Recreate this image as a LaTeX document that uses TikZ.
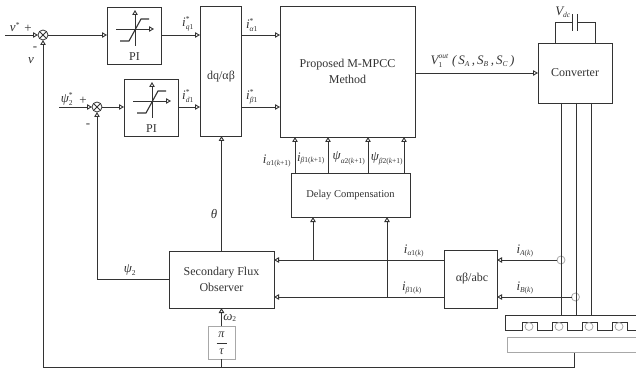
\documentclass[tikz,border=0pt]{standalone}
\usepackage{fontspec}
\setmainfont{Liberation Serif}
\usetikzlibrary{arrows.meta}
\definecolor{ink}{HTML}{333333}
\definecolor{soft}{HTML}{A8A8A8}
\newcommand{\bi}[1]{\hbox{\fontsize{13}{13}\selectfont\itshape #1}}
\newcommand{\si}[1]{\hbox{\fontsize{7.5}{8}\selectfont\itshape #1}}
\newcommand{\sr}[1]{\hbox{\fontsize{7.5}{8}\selectfont #1}}
\tikzset{
  x=1pt,y=-1pt,
  blk/.style={draw=ink,line width=.95pt,fill=white,inner sep=0pt,outer sep=0pt,align=center,text=ink,font=\fontsize{12}{15.5}\selectfont},
  softblk/.style={blk,draw=soft},
  sumj/.style={circle,draw=ink,line width=.8pt,fill=white,minimum size=10pt,inner sep=0pt,outer sep=0pt},
  sensor/.style={circle,draw=soft,line width=.8pt,minimum size=8pt,inner sep=0pt,outer sep=0pt},
  wire/.style={draw=ink,line width=.9pt},
  softwire/.style={draw=soft,line width=1pt},
  arr/.style={wire,-{Triangle[open,fill=white,length=5pt,width=5.5pt,line width=.9pt]}},
  lab/.style={inner sep=0pt,text=ink,font=\fontsize{13}{13}\selectfont},
  txt/.style={inner sep=0pt,text=ink,font=\fontsize{12}{15}\selectfont},
}
\begin{document}
\begin{tikzpicture}
\useasboundingbox (0,0) rectangle (636,371);
% blocks
\node[blk,minimum width=54pt,minimum height=57pt] (pia) at (134,35.5) {};
\node[blk,minimum width=54pt,minimum height=57pt] (pib) at (151,107.5) {};
\node[blk,minimum width=41pt,minimum height=130pt] (dq) at (220.5,71) {};
\node[txt] (dqt) at (221,77) {dq/αβ};
\node[blk,minimum width=135pt,minimum height=131pt] (mpcc) at (347.5,71.5) {Proposed M-MPCC\\Method};
\node[blk,minimum width=74pt,minimum height=60pt] (conv) at (575,73) {Converter};
\node[blk,minimum width=119pt,minimum height=44pt,font=\fontsize{10.5}{13}\selectfont] (delay) at (350.5,195) {Delay Compensation};
\node[blk,minimum width=105pt,minimum height=57pt] (obs) at (221.5,279.5) {Secondary Flux\\Observer};
\node[softblk,minimum width=27pt,minimum height=33pt] (pt) at (221.5,342.5) {};
\node[blk,minimum width=53pt,minimum height=58pt] (conv2) at (470.5,279) {};
\node[txt] (abct) at (472,279) {αβ/abc};
\node[sumj] (sa) at (43,35) {};
\node[sumj] (sb) at (97,107) {};
\draw[wire,line width=.8pt] (sa.north west)--(sa.south east) (sa.north east)--(sa.south west);
\draw[wire,line width=.8pt] (sb.north west)--(sb.south east) (sb.north east)--(sb.south west);
% PI glyphs
\node[txt] (pial) at (134.5,57) {PI};
\node[txt] (pibl) at (151.5,129) {PI};
\foreach \dx/\dy in {0/0,17/72}{
  \begin{scope}[shift={(\dx,\dy)}]
    \coordinate (gl) at (116,29); \coordinate (gr) at (154,29);
    \coordinate (gb) at (135,46); \coordinate (gt) at (135,10);
    \draw[arr] (gl)--(gr);
    \draw[arr] (gb)--(gt);
    \coordinate (c1) at (120,41); \coordinate (c2) at (129,41);
    \coordinate (c3) at (141,19); \coordinate (c4) at (149,19);
    \draw[wire,line width=1.1pt] (c1)--(c2)--(c3)--(c4);
  \end{scope}
}
% coordinates
\coordinate (vin) at (5,35);
\coordinate (psiin) at (59,107);
\coordinate (ybot) at (43,367);
\coordinate (yb2) at (574,367);
\coordinate (ra) at (295,0); \coordinate (rb) at (328,0);
\coordinate (rc) at (368,0); \coordinate (rd) at (404,0);
\coordinate (da) at (313,0); \coordinate (db) at (387,0);
\coordinate (ya) at (0,260); \coordinate (yb) at (0,297);
\coordinate (yi) at (0,35); \coordinate (yj) at (0,107);
% top connectors
\draw[arr] (vin)--(sa);
\draw[arr] (sa)--(pia.west |- sa);
\draw[arr] (pia.east |- yi)--(dq.west |- yi);
\draw[arr] (dq.east |- yi)--(mpcc.west |- yi);
\draw[arr] (psiin)--(sb);
\draw[arr] (sb)--(pib.west |- sb);
\draw[arr] (pib.east |- yj)--(dq.west |- yj);
\draw[arr] (dq.east |- yj)--(mpcc.west |- yj);
\draw[arr] (mpcc.east |- conv)--(conv.west);
\foreach \r in {ra,rb,rc,rd}{\draw[arr] (delay.north -| \r)--(mpcc.south -| \r);}
\draw[arr] (obs.north)--(dq.south -| obs.north);
\draw[arr] (obs.west) -| (sb.south);
\draw[arr] (ybot) -- (sa.south);
\draw[wire] (ybot) -- (yb2) -- (574,352);
% currents
\node[sensor] (sena) at (561,260) {};
\node[sensor] (senb) at (575.5,297) {};
\draw[arr] (sena.west)--(conv2.east |- sena);
\draw[arr] (senb.west)--(conv2.east |- senb);
\draw[arr] (conv2.west |- ya)--(obs.east |- ya);
\draw[arr] (conv2.west |- yb)--(obs.east |- yb);
\draw[arr] (da |- ya)--(delay.south -| da);
\draw[arr] (db |- yb)--(delay.south -| db);
% omega path
\draw[wire] (ybot -| pt.south)--(pt.south);
\draw[arr] (pt.north)--(obs.south);
\node[lab,font=\fontsize{12}{13}\selectfont\itshape] (ptn) at (221.5,335) {π};
\draw[wire,line width=.6pt] (216.5,343)--(226.5,343);
\node[lab,font=\fontsize{12}{13}\selectfont\itshape] (ptd) at (221.5,352) {τ};
% capacitor
\draw[wire] (555,43)--(555,22)--(572,22);
\draw[wire] (577,22)--(595,22)--(595,43);
\draw[wire] (572,14)--(572,31) (577,14)--(577,31);
% machine
\foreach \x in {561,576,591}{\draw[wire] (\x,103)--(\x,315);}
\draw[wire,fill=white] (636,315)--(505,315)--(505,330)--(522,330)--(522,322)--(537,322)--(537,330)--(552,330)--(552,322)--(567,322)--(567,330)--(582,330)--(582,322)--(597,322)--(597,330)--(612,330)--(612,322)--(627,322)--(627,330)--(636,330);
\foreach \x in {529,559,589,619}{\node[sensor] at (\x,326.5) {};}
\draw[softwire] (636,337)--(507,337)--(507,352)--(636,352);
% labels
\node[lab] (l1) at (15,27) {$\bi{v}^{\sr{*}}$};
\node[lab] (l2) at (28,28.5) {+};
\node[lab] (l3) at (35,49) {-};
\node[lab] (l4) at (31,61) {\itshape v};
\node[lab] (l5) at (67,99) {$\bi{ψ}_{\sr{2}}^{\sr{*}}$};
\node[lab] (l6) at (83,100.5) {+};
\node[lab] (l7) at (88,126) {-};
\node[lab] (l8) at (188,24) {$\bi{i}_{\si{q}\sr{1}}^{\sr{*}}$};
\node[lab] (l9) at (188,96) {$\bi{i}_{\si{d}\sr{1}}^{\sr{*}}$};
\node[lab] (l10) at (252,25) {$\bi{i}_{\si{α}\sr{1}}^{\sr{*}}$};
\node[lab] (l11) at (252,97) {$\bi{i}_{\si{β}\sr{1}}^{\sr{*}}$};
\node[lab] (l12) at (472.5,61) {$\bi{V}_{\sr{1}}^{\si{out}}\;\bi{(}\,\bi{S}_{\si{A}}\,\bi{,}\,\bi{S}_{\si{B}}\,\bi{,}\,\bi{S}_{\si{C}}\,\bi{)}$};
\node[lab] (l13) at (563,12) {$\bi{V}_{\si{dc}}$};
\node[lab] (l14) at (277,161) {$\bi{i}_{\si{α}\sr{1(}\si{k}\sr{+1)}}$};
\node[lab] (l15) at (311,158.5) {$\bi{i}_{\si{β}\sr{1(}\si{k}\sr{+1)}}$};
\node[lab] (l16) at (349,158.5) {$\bi{ψ}_{\si{α}\sr{2(}\si{k}\sr{+1)}}$};
\node[lab] (l17) at (387,159) {$\bi{ψ}_{\si{β}\sr{2(}\si{k}\sr{+1)}}$};
\node[lab] (l18) at (214,214) {\itshape θ};
\node[lab] (l19) at (130,270) {$\bi{ψ}_{\sr{2}}$};
\node[lab] (l20) at (230,318) {$\bi{ω}_{\sr{2}}$};
\node[lab] (l21) at (414,251) {$\bi{i}_{\si{α}\sr{1(}\si{k}\sr{)}}$};
\node[lab] (l22) at (412,288) {$\bi{i}_{\si{β}\sr{1(}\si{k}\sr{)}}$};
\node[lab] (l23) at (525,251) {$\bi{i}_{\si{A}\sr{(}\si{k}\sr{)}}$};
\node[lab] (l24) at (525,288) {$\bi{i}_{\si{B}\sr{(}\si{k}\sr{)}}$};
\end{tikzpicture}
\end{document}
